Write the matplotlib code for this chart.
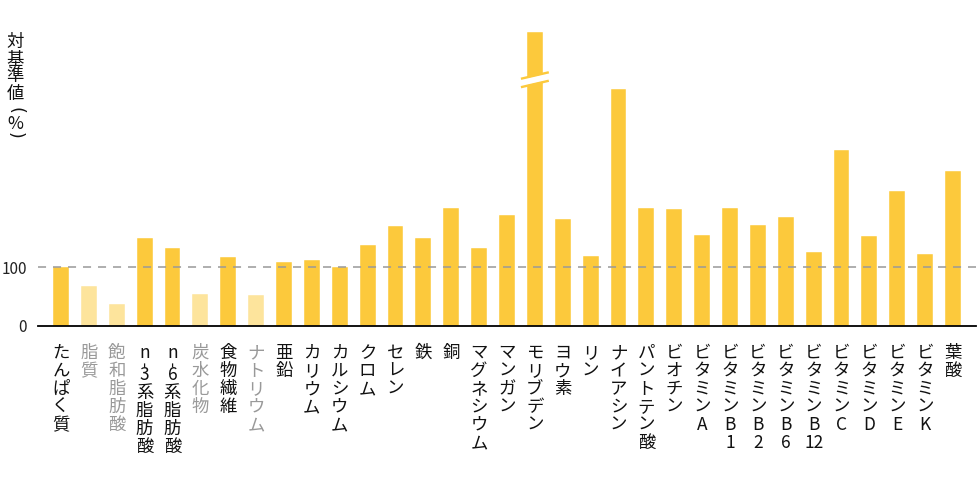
import numpy as np
import matplotlib
matplotlib.use("Agg")
import matplotlib.pyplot as plt

plt.rcParams['font.family'] = ['Noto Sans CJK JP', 'DejaVu Sans']
plt.rcParams['lines.scale_dashes'] = False

# data
categories = [
    ["た", "ん", "ぱ", "く", "質"],
    ["脂", "質"],
    ["飽", "和", "脂", "肪", "酸"],
    ["n", "-", "3", "系", "脂", "肪", "酸"],
    ["n", "-", "6", "系", "脂", "肪", "酸"],
    ["炭", "水", "化", "物"],
    ["食", "物", "繊", "維"],
    ["ナ", "ト", "リ", "ウ", "ム"],
    ["亜", "鉛"],
    ["カ", "リ", "ウ", "ム"],
    ["カ", "ル", "シ", "ウ", "ム"],
    ["ク", "ロ", "ム"],
    ["セ", "レ", "ン"],
    ["鉄"],
    ["銅"],
    ["マ", "グ", "ネ", "シ", "ウ", "ム"],
    ["マ", "ン", "ガ", "ン"],
    ["モ", "リ", "ブ", "デ", "ン"],
    ["ヨ", "ウ", "素"],
    ["リ", "ン"],
    ["ナ", "イ", "ア", "シ", "ン"],
    ["パ", "ン", "ト", "テ", "ン", "酸"],
    ["ビ", "オ", "チ", "ン"],
    ["ビ", "タ", "ミ", "ン", "A"],
    ["ビ", "タ", "ミ", "ン", "B", "1"],
    ["ビ", "タ", "ミ", "ン", "B", "2"],
    ["ビ", "タ", "ミ", "ン", "B", "6"],
    ["ビ", "タ", "ミ", "ン", "B", "12"],
    ["ビ", "タ", "ミ", "ン", "C"],
    ["ビ", "タ", "ミ", "ン", "D"],
    ["ビ", "タ", "ミ", "ン", "E"],
    ["ビ", "タ", "ミ", "ン", "K"],
    ["葉", "酸"],
]
values = [100, 68, 37, 149, 132, 54, 117, 53, 108, 112, 100, 137, 170, 149, 200,
          132, 188, 500, 181, 119, 403, 200, 198, 154, 200, 171, 185, 125, 300,
          153, 229, 122, 263]
muted = [1, 2, 5, 7]          # categories drawn faded
broken = 17                   # bar with axis break (モリブデン)
ylabel_chars = ["対", "基", "準", "値", "(", "%", ")"]

YELLOW = "#fcc93c"
LIGHT = "#fde49c"
GREY = "#999999"

fig = plt.figure(figsize=(9.8, 4.9), dpi=100)
H = 490.0
ax = fig.add_axes([38 / 980, (H - 325.7) / H, (976 - 38) / 980, 293.5 / H])

x = np.arange(len(values))
colors = [LIGHT if i in muted else YELLOW for i in x]
ax.bar(x, values, width=0.57, color=colors, edgecolor="white", linewidth=0.3, zorder=2)

ax.set_xlim(-0.825, len(values) - 1 + 0.825)
ax.set_ylim(0, 500)

ax.axhline(100, color=GREY, lw=1.1, dashes=(5.8, 5.0), zorder=3)

# break marks on the tall bar
xc = x[broken]
mid, tilt, off = 419, 5.5, 7.2
xs = [xc - 0.5, xc + 0.5]
ax.plot(xs, [mid - tilt, mid + tilt], color="white", lw=5.0, solid_capstyle="butt", zorder=4)
for s in (-1, 1):
    ax.plot(xs, [mid - tilt + s * off, mid + tilt + s * off], color=YELLOW, lw=1.7,
            solid_capstyle="butt", zorder=5)

for side in ["left", "right", "top"]:
    ax.spines[side].set_visible(False)
ax.spines["bottom"].set_linewidth(1.3)
ax.spines["bottom"].set_zorder(6)
ax.set_xticks([])
ax.set_yticks([0, 100])
ax.set_yticklabels(["0", "100"])
ax.tick_params(axis="y", length=0, pad=8, labelsize=11, labelcolor="#222222")

# vertical category labels, one character per row
adv = {"n": 11.5, "-": 10.5}
xt = ax.get_xaxis_transform()
for i, chars in enumerate(categories):
    col = GREY if i in muted else "#111111"
    y = 353.0
    for ch in chars:
        rot = 90 if ch == "-" else 0
        fs = 11 if ch == "-" else 12.5
        ax.text(x[i], 1 - (y - 32.2) / 293.5, ch, transform=xt,
                ha="center", va="center", fontsize=fs, color=col, rotation=rot)
        y += adv.get(ch, 18)

# vertical y axis label; brackets turned a quarter to sit like vertical text
ypos = [41.5, 59.5, 76, 93.5, 110, 124, 135]
for ch, yp in zip(ylabel_chars, ypos):
    if ch in "()":
        fig.text(15 / 980, 1 - yp / H, ch, ha="center", va="center", fontsize=12.5,
                 color="#111111", rotation=-90, family="DejaVu Sans")
    else:
        fig.text(15 / 980, 1 - yp / H, ch, ha="center", va="center", fontsize=12.5,
                 color="#111111")

fig.savefig("out.png", dpi=100)
